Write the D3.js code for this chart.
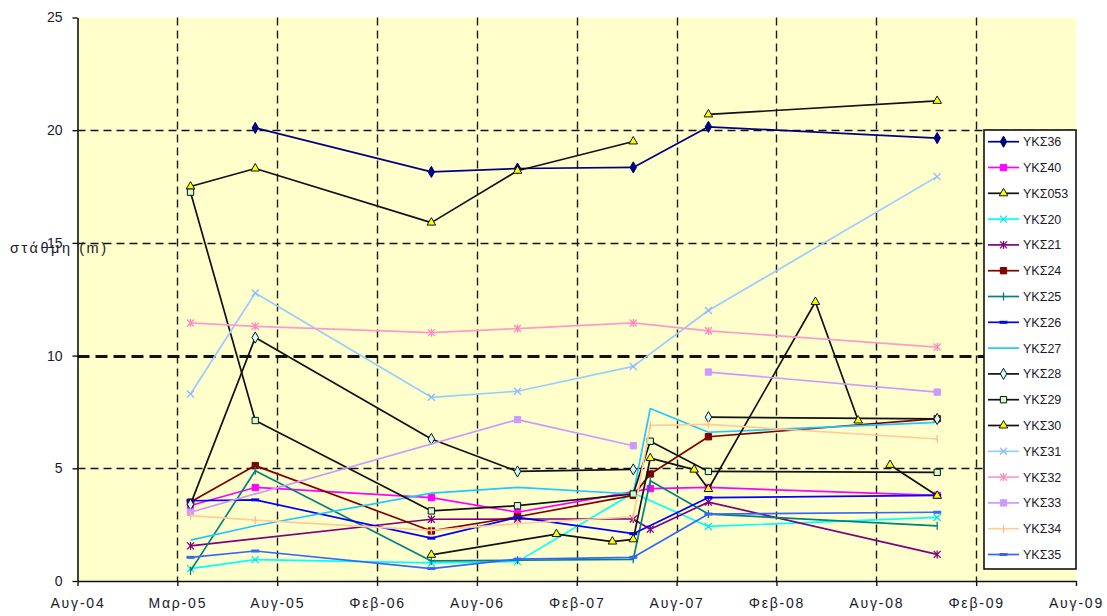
<!DOCTYPE html>
<html>
<head>
<meta charset="utf-8">
<script src="https://cdn.jsdelivr.net/npm/d3@7"></script>
<style>
  html, body { margin: 0; padding: 0; background: #ffffff; }
  svg { display: block; font-family: "Liberation Sans", Arial, sans-serif; }
</style>
</head>
<body>
<svg id="chart" width="1107" height="616"></svg>
<script>
// Water level (m) of the monitoring wells, per survey date.
// A null entry breaks the line between the surrounding measurements.
const ykS36  = [["2005-07-21",20.1],["2006-06-07",18.15],["2006-11-11",18.3],["2007-06-10",18.35],["2007-10-25",20.15],["2008-12-15",19.65]];
const ykS40  = [["2005-03-25",3.35],["2005-07-21",4.15],["2006-06-07",3.7],["2006-11-11",3.05],["2007-07-11",4.1],["2007-10-25",4.15],["2008-12-15",3.8]];
const ykS053 = [["2005-03-25",17.5],["2005-07-21",18.3],["2006-06-07",15.9],["2006-11-11",18.2],["2007-06-10",19.5],null,["2007-10-25",20.7],["2008-12-15",21.3]];
const ykS20  = [["2005-03-25",0.55],["2005-07-21",0.95],["2006-06-07",0.8],["2006-11-11",0.86],["2007-06-10",3.9],["2007-10-25",2.42],["2008-12-15",2.82]];
const ykS21  = [["2005-03-25",1.56],["2006-06-07",2.74],["2006-11-11",2.75],["2007-06-10",2.75],["2007-07-11",2.3],["2007-10-25",3.5],["2008-12-15",1.18]];
const ykS24  = [["2005-03-25",3.5],["2005-07-21",5.12],["2006-06-07",2.22],["2006-11-11",2.85],["2007-06-10",3.8],["2007-07-11",4.75],["2007-10-25",6.4],["2008-12-15",7.2]];
const ykS25  = [["2005-03-25",0.45],["2005-07-21",4.89],["2006-06-07",0.89],["2006-11-11",0.92],["2007-06-10",0.96],["2007-07-11",4.45],["2007-10-25",2.97],["2008-12-15",2.45]];
const ykS26  = [["2005-03-25",3.56],["2005-07-21",3.6],["2006-06-07",1.9],["2006-11-11",2.82],["2007-06-10",2.1],["2007-10-25",3.7],["2008-12-15",3.8]];
const ykS27  = [["2005-03-25",1.81],["2005-07-21",2.45],["2006-06-07",3.9],["2006-11-11",4.15],["2007-06-10",3.86],["2007-07-11",7.65],["2007-10-25",6.6],["2008-12-15",7.04]];
const ykS28  = [["2005-03-25",3.4],["2005-07-21",10.8],["2006-06-07",6.3],["2006-11-11",4.86],["2007-06-10",4.95],null,["2007-10-25",7.27],["2008-12-15",7.19]];
const ykS29  = [["2005-03-25",17.25],["2005-07-21",7.12],["2006-06-07",3.11],["2006-11-11",3.34],["2007-06-10",3.86],["2007-07-11",6.2],["2007-10-25",4.86],["2008-12-15",4.82]];
const ykS30  = [["2006-06-07",1.16],["2007-01-21",2.08],["2007-05-03",1.75],["2007-06-10",1.85],["2007-07-11",5.45],["2007-09-29",4.94],["2007-10-25",4.08],["2008-05-07",12.38],["2008-07-24",7.12],null,["2008-09-20",5.15],["2008-12-15",3.78]];
const ykS31  = [["2005-03-25",8.3],["2005-07-21",12.78],["2006-06-07",8.15],["2006-11-11",8.42],["2007-06-10",9.52],["2007-10-25",12.0],["2008-12-15",17.94]];
const ykS32  = [["2005-03-25",11.45],["2005-07-21",11.3],["2006-06-07",11.02],["2006-11-11",11.2],["2007-06-10",11.45],["2007-10-25",11.1],["2008-12-15",10.38]];
const ykS33  = [["2005-03-25",3.05],["2006-11-11",7.16],["2007-06-10",6.0],null,["2007-10-25",9.27],["2008-12-15",8.38]];
const ykS34  = [["2005-03-25",2.9],["2005-07-21",2.7],["2006-06-07",2.25],["2006-11-11",2.55],["2007-06-10",2.85],["2007-07-11",6.9],["2007-10-25",6.95],["2008-12-15",6.3]];
const ykS35  = [["2005-03-25",1.05],["2005-07-21",1.33],["2006-06-07",0.55],["2006-11-11",0.97],["2007-06-10",1.05],["2007-10-25",2.97],["2008-12-15",3.05]];

const seriesNames = ["ΥΚΣ36","ΥΚΣ40","ΥΚΣ053","ΥΚΣ20","ΥΚΣ21","ΥΚΣ24","ΥΚΣ25","ΥΚΣ26","ΥΚΣ27",
                     "ΥΚΣ28","ΥΚΣ29","ΥΚΣ30","ΥΚΣ31","ΥΚΣ32","ΥΚΣ33","ΥΚΣ34","ΥΚΣ35"];
const seriesData = [ykS36, ykS40, ykS053, ykS20, ykS21, ykS24, ykS25, ykS26, ykS27,
                    ykS28, ykS29, ykS30, ykS31, ykS32, ykS33, ykS34, ykS35];

// Axis ticks: one every 182 days from the start of the date axis.
const xTickDates  = ["2004-08-31","2005-03-01","2005-08-30","2006-02-28","2006-08-29","2007-02-27",
                     "2007-08-28","2008-02-26","2008-08-26","2009-02-24","2009-08-25"];
const xTickLabels = ["Αυγ-04","Μαρ-05","Αυγ-05","Φεβ-06","Αυγ-06","Φεβ-07","Αυγ-07","Φεβ-08","Αυγ-08","Φεβ-09","Αυγ-09"];
const yTicks = [0, 5, 10, 15, 20, 25];
const yTitle = "στάθμη (m)";

// Line colour and marker for each well, in legend order.
const seriesStyles = [
  { color: "#000080", marker: "diamond",  fill: "#000080", stroke: "#000080" },
  { color: "#ff00ff", marker: "square",   fill: "#ff00ff", stroke: "#ff00ff" },
  { color: "#111111", marker: "triangle", fill: "#ffff00", stroke: "#111111" },
  { color: "#00ffff", marker: "cross",    fill: "none",    stroke: "#00e8e8" },
  { color: "#800080", marker: "star",     fill: "none",    stroke: "#800080" },
  { color: "#800000", marker: "square",   fill: "#800000", stroke: "#800000" },
  { color: "#008080", marker: "plus",     fill: "none",    stroke: "#008080" },
  { color: "#0000ff", marker: "dash",     fill: "none",    stroke: "#0000ff" },
  { color: "#1ec8ff", marker: "none",     fill: "none",    stroke: "none" },
  { color: "#111111", marker: "diamond",  fill: "#ccffff", stroke: "#111111" },
  { color: "#111111", marker: "square",   fill: "#ccffcc", stroke: "#111111" },
  { color: "#111111", marker: "triangle", fill: "#ffff00", stroke: "#111111" },
  { color: "#99ccff", marker: "cross",    fill: "none",    stroke: "#88bbff" },
  { color: "#ff99cc", marker: "star",     fill: "none",    stroke: "#ff88bb" },
  { color: "#cc99ff", marker: "square",   fill: "#cc99ff", stroke: "#cc99ff" },
  { color: "#ffcc99", marker: "plus",     fill: "none",    stroke: "#ffbb88" },
  { color: "#3366ff", marker: "dash",     fill: "none",    stroke: "#3366ff" }
];

const W = 1107, H = 616;
const plot = { left: 77.5, right: 1076, top: 17.5, bottom: 581 };
const parse = d3.utcParse("%Y-%m-%d");

const svg = d3.select("#chart");
svg.append("rect").attr("width", W).attr("height", H).attr("fill", "#ffffff");

const x = d3.scaleUtc()
  .domain([parse(xTickDates[0]), parse(xTickDates[xTickDates.length - 1])])
  .range([plot.left, plot.right]);
const y = d3.scaleLinear().domain([0, 25]).range([plot.bottom, plot.top]);

// Plot area background
svg.append("rect")
  .attr("x", plot.left).attr("y", plot.top)
  .attr("width", plot.right - plot.left).attr("height", plot.bottom - plot.top)
  .attr("fill", "#ffffcc");

// Gridlines
const grid = svg.append("g");
xTickDates.slice(1, -1).forEach(d => {
  const gx = Math.round(x(parse(d))) + 0.5;
  grid.append("line")
    .attr("x1", gx).attr("x2", gx).attr("y1", plot.top).attr("y2", plot.bottom)
    .attr("stroke", "#1a1a1a").attr("stroke-width", 1.4).attr("stroke-dasharray", "8,5");
});
yTicks.filter(v => v > 0 && v < 25).forEach(v => {
  const gy = Math.round(y(v)) + 0.5;
  const heavy = v === 10;
  grid.append("line")
    .attr("x1", plot.left).attr("x2", plot.right).attr("y1", gy).attr("y2", gy)
    .attr("stroke", "#111111")
    .attr("stroke-width", heavy ? 3 : 1.4)
    .attr("stroke-dasharray", heavy ? "12,6" : "8,5");
});

// Axes
const xAxis = d3.axisBottom(x)
  .tickValues(xTickDates.map(parse))
  .tickFormat((d, i) => xTickLabels[i])
  .tickSizeInner(5).tickSizeOuter(0).tickPadding(12);
const gx = svg.append("g").attr("transform", `translate(0,${plot.bottom})`).call(xAxis);
gx.select(".domain").attr("stroke", "#111").attr("stroke-width", 1.6);
gx.selectAll(".tick line").attr("stroke", "#111").attr("stroke-width", 1.4);
gx.selectAll(".tick text")
  .attr("font-size", 14).attr("fill", "#1a1a2a")
  .attr("font-family", "Liberation Sans, Arial, sans-serif")
  .style("letter-spacing", "1.8px");

const yAxis = d3.axisLeft(y).tickValues(yTicks).tickFormat(d3.format("d"))
  .tickSizeInner(5).tickSizeOuter(0).tickPadding(10);
const gy = svg.append("g").attr("transform", `translate(${plot.left},0)`).call(yAxis);
gy.select(".domain").attr("stroke", "#111").attr("stroke-width", 1.6);
gy.selectAll(".tick line").attr("stroke", "#111").attr("stroke-width", 1.4);
gy.selectAll(".tick text")
  .attr("font-size", 14).attr("fill", "#1a1a2a")
  .attr("font-family", "Liberation Sans, Arial, sans-serif");

// Axis title, drawn horizontally across the "15" label
svg.append("text")
  .attr("x", 10).attr("y", y(15) + 10)
  .attr("font-size", 14.5).attr("fill", "#1a1a2a")
  .attr("textLength", 96).attr("lengthAdjust", "spacing")
  .text(yTitle);

// Marker drawing
function drawMarker(g, type, cx, cy, st) {
  const sym = (shape, size) => g.append("path")
    .attr("d", d3.symbol().type(shape).size(size)())
    .attr("transform", `translate(${cx},${cy})`)
    .attr("fill", st.fill).attr("stroke", st.stroke).attr("stroke-width", 1);
  const seg = (x1, y1, x2, y2, w) => g.append("line")
    .attr("x1", cx + x1).attr("y1", cy + y1).attr("x2", cx + x2).attr("y2", cy + y2)
    .attr("stroke", st.stroke).attr("stroke-width", w || 1.3);
  switch (type) {
    case "diamond":  sym(d3.symbolDiamond, 36); break;
    case "square":   sym(d3.symbolSquare, 40); break;
    case "triangle": sym(d3.symbolTriangle, 32); break;
    case "cross": seg(-3.5, -3.5, 3.5, 3.5); seg(-3.5, 3.5, 3.5, -3.5); break;
    case "star":  seg(-3.5, -3.5, 3.5, 3.5); seg(-3.5, 3.5, 3.5, -3.5); seg(0, -4, 0, 4); break;
    case "plus":  seg(0, -4, 0, 4); break;
    case "dash":  seg(-4, 0, 4, 0, 3); break;
    default: break;
  }
}

// Series lines and markers
const lineGen = d3.line()
  .defined(d => d !== null)
  .x(d => x(parse(d[0])))
  .y(d => y(d[1]));

const gSeries = svg.append("g");
seriesData.forEach((pts, i) => {
  const st = seriesStyles[i];
  const g = gSeries.append("g");
  g.append("path")
    .attr("d", lineGen(pts))
    .attr("fill", "none")
    .attr("stroke", st.color)
    .attr("stroke-width", 1.7)
    .attr("stroke-linejoin", "round");
  pts.filter(d => d !== null).forEach(d => {
    drawMarker(g, st.marker, x(parse(d[0])), y(d[1]), st);
  });
});

// Legend
const legend = { left: 984, top: 130, width: 92, height: 439, rowStart: 141.7, rowStep: 25.8 };
const gl = svg.append("g");
gl.append("rect")
  .attr("x", legend.left).attr("y", legend.top)
  .attr("width", legend.width).attr("height", legend.height)
  .attr("fill", "#ffffff").attr("stroke", "#111").attr("stroke-width", 1.6);
seriesNames.forEach((name, i) => {
  const st = seriesStyles[i];
  const ry = legend.rowStart + i * legend.rowStep;
  gl.append("line")
    .attr("x1", 988).attr("x2", 1019).attr("y1", ry).attr("y2", ry)
    .attr("stroke", st.color).attr("stroke-width", 1.7);
  drawMarker(gl, st.marker, 1003.5, ry, st);
  gl.append("text")
    .attr("x", 1023).attr("y", ry + 4.5)
    .attr("font-size", 12.5).attr("fill", "#1a1a2a")
    .text(name);
});
</script>
</body>
</html>
